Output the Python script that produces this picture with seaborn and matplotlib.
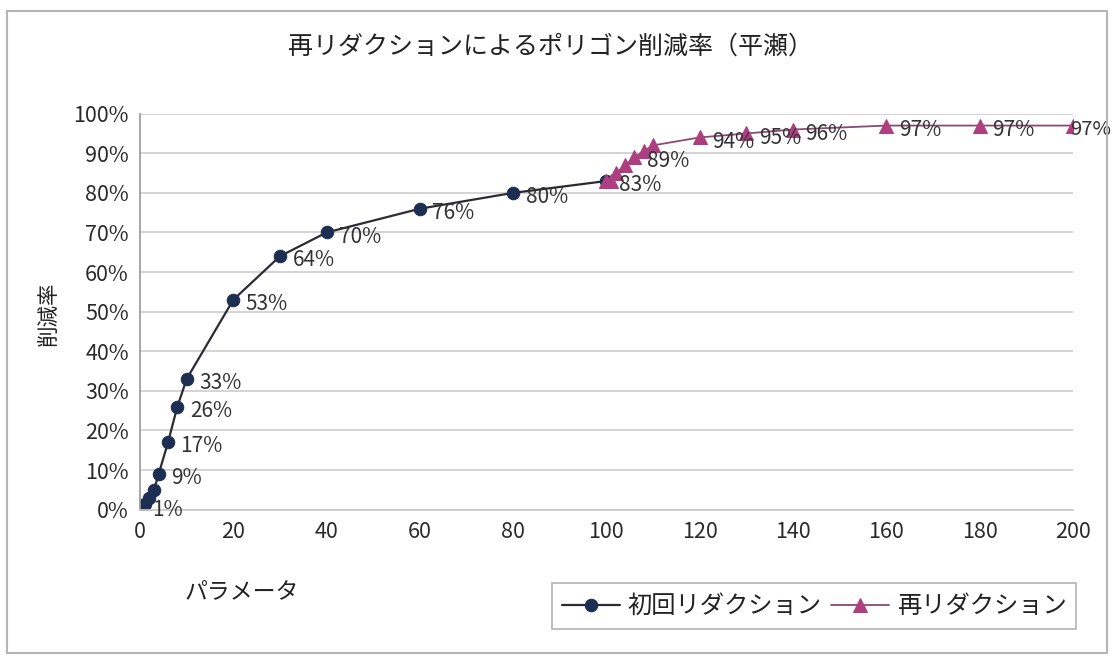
import matplotlib
matplotlib.use("Agg")
import matplotlib.pyplot as plt
import matplotlib.patches as mpatches
import seaborn as sns
import pandas as pd
from matplotlib.ticker import FuncFormatter, MultipleLocator

# Polygon reduction rate by parameter
first_x = [0, 1, 2, 3, 4, 6, 8, 10, 20, 30, 40, 60, 80, 100]
first_y = [1, 1.5, 3, 5, 9, 17, 26, 33, 53, 64, 70, 76, 80, 83]
first_labels = {0: "1%", 4: "9%", 6: "17%", 8: "26%", 10: "33%", 20: "53%",
                30: "64%", 40: "70%", 60: "76%", 80: "80%", 100: "83%"}

second_x = [100, 101, 102, 104, 106, 108, 110, 120, 130, 140, 160, 180, 200]
second_y = [83, 83, 85, 87, 89, 90.5, 92, 94, 95, 96, 97, 97, 97]
second_labels = {106: "89%", 120: "94%", 130: "95%", 140: "96%",
                 160: "97%", 180: "97%", 200: "97%"}

title = "再リダクションによるポリゴン削減率（平瀬）"
x_label = "パラメータ"
y_label = "削減率"
series_names = ["初回リダクション", "再リダクション"]

sns.set_theme(style="white")
jp = ["Noto Sans CJK JP", "DejaVu Sans"]
num = ["Liberation Sans Narrow", "Noto Sans CJK JP", "DejaVu Sans"]
plt.rcParams["font.family"] = jp

fig = plt.figure(figsize=(11.14, 6.61), dpi=100)
ax = fig.add_axes([0.1257, 0.229, 0.963 - 0.1257, 0.599])

df1 = pd.DataFrame({"x": first_x, "y": first_y})
df2 = pd.DataFrame({"x": second_x, "y": second_y})

sns.lineplot(data=df1, x="x", y="y", ax=ax, color="#2b2b33", lw=1.6,
             marker="o", markersize=9, markerfacecolor="#1c2f52",
             markeredgecolor="#1c2f52", label=series_names[0], sort=False)
sns.lineplot(data=df2, x="x", y="y", ax=ax, color="#8a4a72", lw=1.3,
             marker="^", markersize=10, markerfacecolor="#ad3f80",
             markeredgecolor="#ad3f80", label=series_names[1], sort=False)

label_color = "#333333"
for xs, ys, labs in [(first_x, first_y, first_labels), (second_x, second_y, second_labels)]:
    for xv, yv in zip(xs, ys):
        if xv in labs:
            # the label at the right edge sits over its marker to stay inside the chart
            edge = xv >= 200
            ax.annotate(labs[xv], (xv, yv), xytext=(-2 if edge else 9, -3),
                        textcoords="offset points", va="center", ha="left",
                        fontsize=14.5 if edge else 15, color=label_color, family=num,
                        zorder=5)

ax.set_xlim(0, 200)
ax.set_ylim(0, 100)
ax.xaxis.set_major_locator(MultipleLocator(20))
ax.yaxis.set_major_locator(MultipleLocator(10))
ax.yaxis.set_major_formatter(FuncFormatter(lambda v, p: f"{int(round(v))}%"))
ax.grid(axis="y", color="#c9c9c9", lw=1.1)
ax.grid(axis="x", visible=False)
for side in ["top", "right"]:
    ax.spines[side].set_visible(False)
ax.spines["left"].set_color("#9a9a9a")
ax.spines["bottom"].set_color("#c9c9c9")
ax.tick_params(axis="both", length=0, pad=8, labelsize=15.5, colors="#2a2a2a")
for t in ax.get_xticklabels() + ax.get_yticklabels():
    t.set_family(num)
ax.set_xlabel("")
ax.set_ylabel("")

fig.text(0.494, 0.93, title, ha="center", va="center", fontsize=18, color="#222222")
fig.text(0.166, 0.105, x_label, ha="left", va="center", fontsize=16.5, color="#222222")
fig.text(0.045, 0.525, y_label, ha="center", va="center", rotation=90, fontsize=15.5,
         color="#222222")

leg = ax.legend(loc="center", bbox_to_anchor=(0.7307, 0.083), bbox_transform=fig.transFigure,
                ncol=2, frameon=True, fontsize=17.5, handlelength=2.4, columnspacing=0.4,
                handletextpad=0.3, borderpad=0.4, fancybox=False)
leg.get_frame().set_edgecolor("#a0a0a0")
leg.get_frame().set_linewidth(1.2)
for t in leg.get_texts():
    t.set_color("#222222")

# outer chart border
fig.patches.append(mpatches.Rectangle((0.006, 0.012), 0.988, 0.972, transform=fig.transFigure,
                                      fill=False, edgecolor="#b5b5b5", lw=1.5))

fig.savefig("out.png", dpi=100)
